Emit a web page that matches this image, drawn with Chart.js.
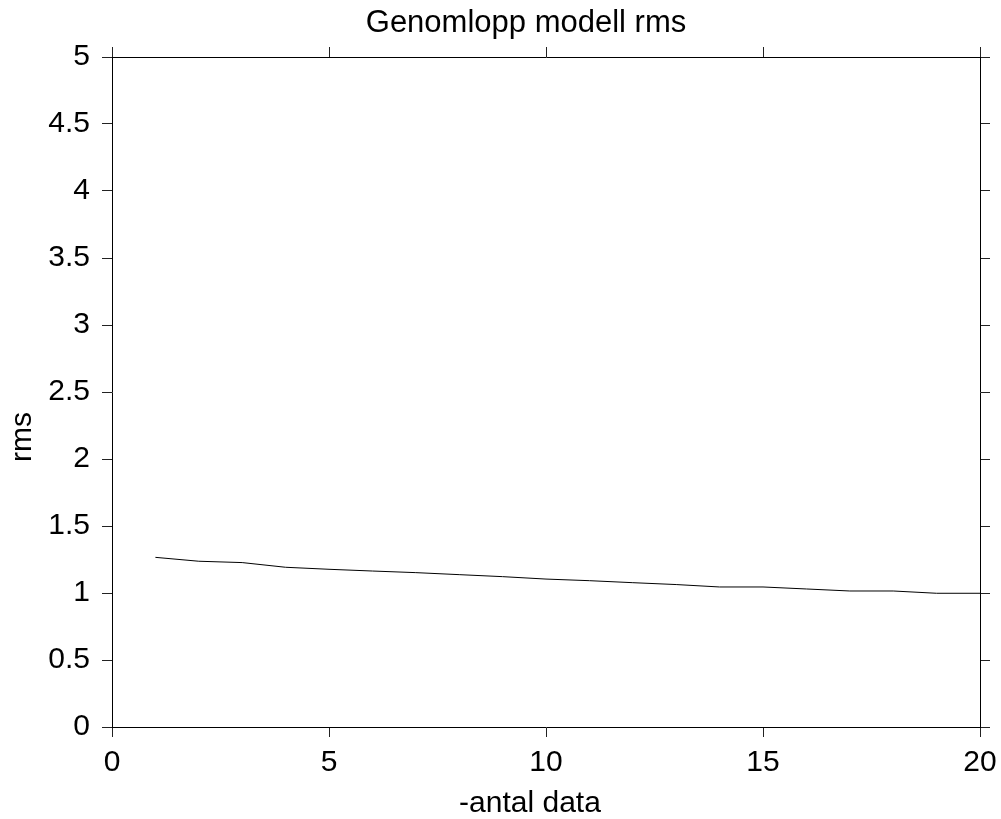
<!DOCTYPE html>
<html>
<head>
<meta charset="utf-8">
<style>
  html, body { margin: 0; padding: 0; background: #fff; }
  #c { display: block; }
</style>
<script src="https://cdn.jsdelivr.net/npm/chart.js@4"></script>
</head>
<body>
<canvas id="c" width="1001" height="819"></canvas>
<script>
const chartTitle = 'Genomlopp modell rms';
const xAxisTitle = '-antal data';
const yAxisTitle = 'rms';
const xValues = [1,2,3,4,5,6,7,8,9,10,11,12,13,14,15,16,17,18,19,20];
const rmsValues = [1.266,1.237,1.227,1.192,1.177,1.164,1.152,1.137,1.122,1.104,1.092,1.077,1.063,1.045,1.045,1.030,1.015,1.015,0.998,0.998];
const xTickLabels = ['0','5','10','15','20'];
const yTickLabels = ['0','0.5','1','1.5','2','2.5','3','3.5','4','4.5','5'];

const FONT = '"Liberation Sans", Arial, Helvetica, sans-serif';

const textPlugin = {
  id: 'textPlugin',
  afterDraw(chart) {
    const ctx = chart.ctx;
    ctx.save();
    ctx.fillStyle = '#000';
    ctx.textAlign = 'center';
    ctx.textBaseline = 'alphabetic';
    ctx.font = '31px ' + FONT;
    ctx.fillText(chartTitle, 526, 32);
    ctx.font = '30px ' + FONT;
    ctx.fillText(xAxisTitle, 530, 812);
    ctx.translate(31, 437);
    ctx.rotate(-Math.PI / 2);
    ctx.fillText(yAxisTitle, 0, 0);
    ctx.restore();
  }
};

const tickFont = { family: FONT, size: 30 };
function gridCfg() {
  return { drawOnChartArea: false, drawTicks: true, tickLength: 10, tickColor: '#222', tickWidth: 1 };
}
function borderCfg() { return { display: true, color: '#000', width: 1 }; }
function noPad(s) { s.paddingLeft = 0; s.paddingRight = 0; s.paddingTop = 0; s.paddingBottom = 0; }

new Chart(document.getElementById('c'), {
  type: 'line',
  data: {
    datasets: [{
      data: xValues.map((x, i) => ({ x: x, y: rmsValues[i] })),
      borderColor: '#000',
      borderWidth: 1,
      pointRadius: 0,
      tension: 0,
      fill: false
    }]
  },
  options: {
    responsive: false,
    animation: false,
    devicePixelRatio: 1,
    layout: { padding: 0 },
    plugins: { legend: { display: false }, title: { display: false }, tooltip: { enabled: false } },
    scales: {
      x: {
        type: 'linear', position: 'bottom', min: 0, max: 20,
        ticks: { stepSize: 5, color: '#000', font: tickFont, padding: 8, maxRotation: 0,
                 callback: (v) => xTickLabels[xTickLabels.indexOf(String(v))] ?? '' },
        grid: gridCfg(), border: borderCfg(),
        afterFit(s) { s.height = 92; noPad(s); }
      },
      x2: {
        type: 'linear', position: 'top', min: 0, max: 20,
        ticks: { stepSize: 5, callback: () => '', font: { size: 1 } },
        grid: gridCfg(), border: borderCfg(),
        afterFit(s) { s.height = 57; noPad(s); }
      },
      y: {
        type: 'linear', position: 'left', min: 0, max: 5,
        ticks: { stepSize: 0.5, color: '#000', font: tickFont, padding: 12,
                 callback: (v) => yTickLabels[yTickLabels.indexOf(String(Math.round(v * 10) / 10))] ?? '' },
        grid: gridCfg(), border: borderCfg(),
        afterFit(s) { s.width = 112; noPad(s); }
      },
      y2: {
        type: 'linear', position: 'right', min: 0, max: 5,
        ticks: { stepSize: 0.5, callback: () => '', font: { size: 1 } },
        grid: gridCfg(), border: borderCfg(),
        afterFit(s) { s.width = 21; noPad(s); }
      }
    }
  },
  plugins: [textPlugin]
});
</script>
</body>
</html>
